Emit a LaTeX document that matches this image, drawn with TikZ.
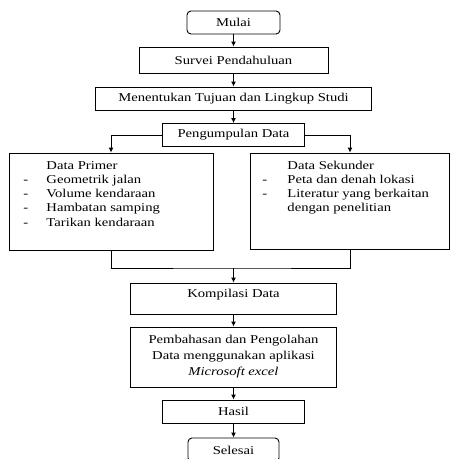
\documentclass[tikz,border=0pt]{standalone}
\usepackage{fontspec}
\setmainfont{Liberation Serif}[FakeStretch=1.22]
\usetikzlibrary{arrows.meta}
\tikzset{kotak/.style={draw,rectangle,inner sep=0pt}}
\begin{document}
\begin{tikzpicture}[x=1pt,y=-1pt,line width=0.9pt,>={Latex[length=5pt,width=5pt]},font=\fontsize{12}{14.3}\selectfont]
\useasboundingbox (0,0) rectangle (450,459);
\node[kotak,rounded corners=4pt,minimum width=93pt,minimum height=23pt] (mulai) at (233.5,22.5) {Mulai};
\node[kotak,minimum width=189pt,minimum height=26pt] (survei) at (233.5,60) {Survei Pendahuluan};
\node[kotak,minimum width=276pt,minimum height=23pt] (tujuan) at (233.5,98.5) {Menentukan Tujuan dan Lingkup Studi};
\node[kotak,minimum width=142pt,minimum height=23pt] (kumpul) at (233.5,135) {Pengumpulan Data};
\node[kotak,minimum width=204pt,minimum height=97pt] (primer) at (111,201.5) {};
\node[kotak,minimum width=199pt,minimum height=96pt] (sekunder) at (350,201) {};
\node[anchor=base west,inner sep=0pt] (primertxt) at (23,169) {\begin{tabular}[t]{@{}p{23pt}@{}l@{}}
 & Data Primer\\
- & Geometrik jalan\\
- & Volume kendaraan\\
- & Hambatan samping\\
- & Tarikan kendaraan
\end{tabular}};
\node[anchor=base west,inner sep=0pt] (sekundertxt) at (262,169) {\begin{tabular}[t]{@{}p{25pt}@{}l@{}}
 & Data Sekunder\\
- & Peta dan denah lokasi\\
- & Literatur yang berkaitan\\
 & dengan penelitian
\end{tabular}};
\coordinate (gabung) at (233.5,268);
\node[kotak,minimum width=206pt,minimum height=31pt] (kompilasi) at (233.5,298.5) {};
\node (kompilasitxt) at (233.5,295) {Kompilasi Data};
\node[kotak,minimum width=206pt,minimum height=60pt,align=center,font=\fontsize{12}{16}\selectfont] (bahas) at (233.5,357) {Pembahasan dan Pengolahan\\Data menggunakan aplikasi\\\textit{Microsoft excel}};
\node[kotak,minimum width=142pt,minimum height=23pt] (hasil) at (233.5,411.5) {Hasil};
\node[kotak,rounded corners=4pt,minimum width=91pt,minimum height=24pt] (selesai) at (233.5,450) {Selesai};
\draw [->] (mulai) -- (survei);
\draw [->] (survei) -- (tujuan);
\draw [->] (tujuan) -- (kumpul);
\draw [->] (kumpul.west) -| (primer.north);
\draw [->] (kumpul.east) -| (sekunder.north);
\draw (primer.south) |- (gabung) -| (sekunder.south);
\draw [->] (gabung) -- (kompilasi);
\draw [->] (kompilasi) -- (bahas);
\draw [->] (bahas) -- (hasil);
\draw [->] (hasil) -- (selesai);
\end{tikzpicture}
\end{document}
